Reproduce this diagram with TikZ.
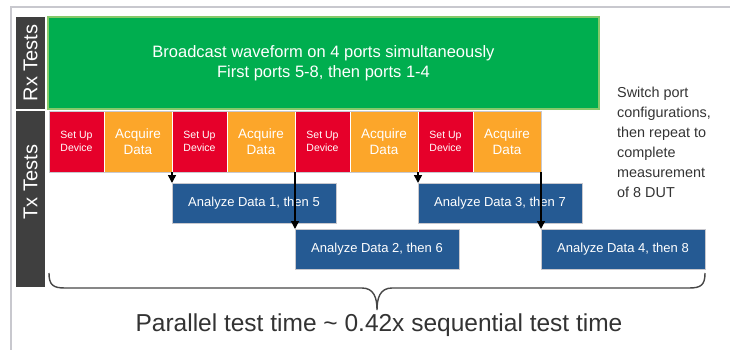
\documentclass[tikz,border=0pt]{standalone}
\usepackage{fontspec}
\setmainfont{Liberation Sans}
\usetikzlibrary{arrows.meta, positioning}
\definecolor{framegray}{HTML}{C8C8CE}
\definecolor{bardark}{HTML}{3F3F3F}
\definecolor{rxgreen}{HTML}{00AE4F}
\definecolor{rxedge}{HTML}{86C96A}
\definecolor{setupred}{HTML}{E6002A}
\definecolor{acqorange}{HTML}{FCA62A}
\definecolor{anablue}{HTML}{255A93}
\definecolor{textgray}{HTML}{333333}

\begin{document}
\begin{tikzpicture}[x=1pt, y=-1pt,
    bar/.style={fill=bardark, text=white, inner sep=0, outer sep=0, minimum height=29pt, rotate=90,
        font=\fontsize{20}{24}\selectfont},
    cell/.style={inner sep=0, outer sep=0, draw=white, line width=1pt, text=white, align=center,
        minimum height=61pt},
    setupbox/.style={cell, fill=setupred, minimum width=55pt, font=\fontsize{10.5}{13}\selectfont},
    acqbox/.style={cell, fill=acqorange, minimum width=68pt, font=\fontsize{13.5}{16}\selectfont},
    anabox/.style={fill=anablue, draw=framegray, line width=0.8pt, text=white, inner sep=0, outer sep=0,
        minimum width=164pt, minimum height=40pt, font=\fontsize{13}{15}\selectfont},
    flow/.style={line width=1.5pt, -{Triangle[length=8pt, width=8pt]}}]

\useasboundingbox (0,0) rectangle (730,350);
\draw[framegray, line width=1.5pt] (11,350) -- (11,7) -- (730,7);

\node[bar, minimum width=92pt] (rxbar) at (30.5,63) {Rx Tests};
\node[bar, minimum width=176pt] (txbar) at (30.5,199) {};
\node[bar, fill=none] (txlabel) at (30.5,182) {Tx Tests};

\node[fill=rxgreen, draw=rxedge, line width=1.2pt, text=white, align=center, inner sep=0,
    minimum width=551pt, minimum height=92pt, font=\fontsize{16.5}{20}\selectfont]
    (rx) at (323.5,63) {Broadcast waveform on 4 ports simultaneously\\First ports 5-8, then ports 1-4};

\foreach \i/\top in {1/183, 2/229, 3/183, 4/229} {
    \pgfmathsetmacro\xs{49+123*(\i-1)}
    \node[setupbox] (s\i) at (\xs+27.5,141.5) {Set Up\\Device};
    \node[acqbox] (q\i) at (\xs+89,141.5) {Acquire\\Data};
    \node[anabox] (a\i) at (\xs+123+82,\top+20) {Analyze Data \i, then \the\numexpr\i+4\relax};
}
\draw[framegray, line width=0.8pt] (s1.north west) rectangle (q4.south east);

\foreach \i in {1,...,4}
    \draw[flow] (q\i.south east) -- (a\i.north west);

\node[text=textgray, align=left, anchor=west, inner sep=0, font=\fontsize{14.4}{20}\selectfont]
    (note) at (617,142.5) {Switch port\\configurations,\\then repeat to\\complete\\measurement\\of 8 DUT};

\coordinate (bl) at (49,273);
\coordinate (br) at (705,273);
\coordinate (tip) at (377,310);
\draw[textgray!90, line width=1.4pt] (bl) .. controls +(0,12) and +(-12,0) .. (65,288) -- (362,288)
    .. controls +(12,0) and +(0,-12) .. (tip) .. controls +(0,-12) and +(-12,0) .. (392,288)
    -- (689,288) .. controls +(12,0) and +(0,12) .. (br);

\node[text=textgray, font=\fontsize{24.5}{28}\selectfont] (total) at (379,325)
    {Parallel test time \textasciitilde{} 0.42x sequential test time};
\end{tikzpicture}
\end{document}
